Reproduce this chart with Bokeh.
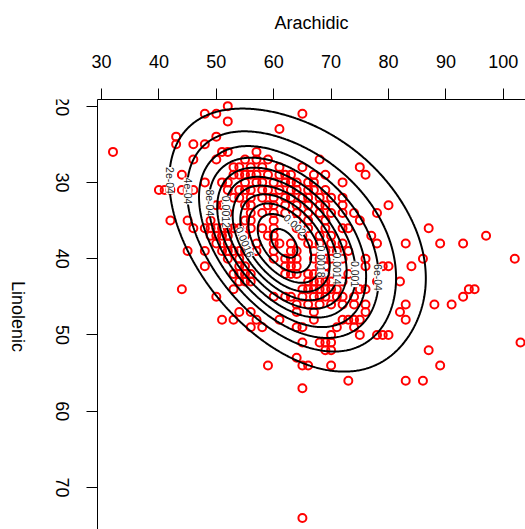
import math
import numpy as np
from bokeh.plotting import figure
from bokeh.layouts import row
from bokeh.models import Range1d, FixedTicker, Label
from bokeh.core.properties import value
from bokeh.embed import file_html
from bokeh.resources import INLINE

# ---------------- data ----------------
arachidic = [
    52,
    48, 50, 65,
    52,
    61,
    43, 50,
    43, 46, 48,
    32, 51, 52, 57,
    46, 50, 55, 57, 59, 68,
    53, 54, 56, 58, 61, 65, 75,
    44, 53, 54, 55, 56, 57, 59, 61, 62, 63, 67, 69, 76,
    48, 51, 52, 55, 57, 58, 60, 62, 63, 64, 66, 67, 72,
    40, 41, 42, 44, 45, 46, 52, 54, 55, 56, 58, 59, 61, 63, 64, 66, 67, 69,
    53, 54, 56, 58, 60, 62, 63, 65, 66, 68, 70, 72,
    50, 51, 55, 56, 59, 60, 62, 64, 66, 68, 69, 72, 80,
    52, 56, 58, 60, 62, 64, 66, 68, 70, 72, 74, 78,
    42, 45, 49, 55, 56, 60, 64, 66, 69, 75,
    46, 48, 49, 50, 51, 52, 53, 54, 56, 58, 60, 64, 66, 69, 72, 73, 87,
    49, 50, 51, 52, 55, 59, 60, 65, 68, 70, 77, 97,
    50, 52, 57, 60, 61, 63, 66, 68, 70, 72, 78, 83, 89, 93,
    45, 48, 51, 52, 53, 54, 55, 57, 60, 63, 64, 67, 69, 71, 73,
    52, 54, 60, 62, 63, 64, 67, 68, 69, 70, 72, 76, 86, 102,
    48, 54, 55, 62, 63, 64, 68, 69, 76, 79, 80, 84,
    53, 54, 55, 56, 62, 63, 64, 66, 67, 68, 69, 73,
    54, 55, 56, 66, 67, 68, 69, 70, 72, 78, 82,
    44, 53, 65, 66, 67, 68, 69, 70, 71, 75, 76, 94, 95,
    50, 60, 62, 63, 65, 67, 68, 69, 71, 72, 74, 93,
    64, 66, 68, 70, 72, 74, 76, 83, 88, 91,
    54, 56, 64, 67, 76, 82,
    51, 53, 57, 61, 67, 72, 73, 74, 75, 83,
    56, 58, 64, 65, 71, 74,
    70, 75, 78, 79, 80,
    65, 68, 69, 70, 103,
    69, 70, 87,
    64,
    59, 65, 66, 70, 89,
    73, 83, 86,
    65,
    65,
]
linolenic = [
    20,
    21, 21, 21,
    22,
    23,
    24, 24,
    25, 25, 25,
    26, 26, 26, 26,
    27, 27, 27, 27, 27, 27,
    28, 28, 28, 28, 28, 28, 28,
    29, 29, 29, 29, 29, 29, 29, 29, 29, 29, 29, 29, 29,
    30, 30, 30, 30, 30, 30, 30, 30, 30, 30, 30, 30, 30,
    31, 31, 31, 31, 31, 31, 31, 31, 31, 31, 31, 31, 31, 31, 31, 31, 31, 31,
    32, 32, 32, 32, 32, 32, 32, 32, 32, 32, 32, 32,
    33, 33, 33, 33, 33, 33, 33, 33, 33, 33, 33, 33, 33,
    34, 34, 34, 34, 34, 34, 34, 34, 34, 34, 34, 34,
    35, 35, 35, 35, 35, 35, 35, 35, 35, 35,
    36, 36, 36, 36, 36, 36, 36, 36, 36, 36, 36, 36, 36, 36, 36, 36, 36,
    37, 37, 37, 37, 37, 37, 37, 37, 37, 37, 37, 37,
    38, 38, 38, 38, 38, 38, 38, 38, 38, 38, 38, 38, 38, 38,
    39, 39, 39, 39, 39, 39, 39, 39, 39, 39, 39, 39, 39, 39, 39,
    40, 40, 40, 40, 40, 40, 40, 40, 40, 40, 40, 40, 40, 40,
    41, 41, 41, 41, 41, 41, 41, 41, 41, 41, 41, 41,
    42, 42, 42, 42, 42, 42, 42, 42, 42, 42, 42, 42,
    43, 43, 43, 43, 43, 43, 43, 43, 43, 43, 43,
    44, 44, 44, 44, 44, 44, 44, 44, 44, 44, 44, 44, 44,
    45, 45, 45, 45, 45, 45, 45, 45, 45, 45, 45, 45,
    46, 46, 46, 46, 46, 46, 46, 46, 46, 46,
    47, 47, 47, 47, 47, 47,
    48, 48, 48, 48, 48, 48, 48, 48, 48, 48,
    49, 49, 49, 49, 49, 49,
    50, 50, 50, 50, 50,
    51, 51, 51, 51, 51,
    52, 52, 52,
    53,
    54, 54, 54, 54, 54,
    56, 56, 56,
    57,
    74,
]
assert len(arachidic) == len(linolenic)

x_ticks = [30, 40, 50, 60, 70, 80, 90, 100]
y_ticks = [20, 30, 40, 50, 60, 70]
y_tick_labels = ["20", "30", "40", "50", "60", "70"]
x_title = "Arachidic"
y_title = "Linolenic"

# density model: two-component bivariate normal mixture
mix_weights = [0.70, 0.30]
mix_means = [(61.2, 38.2), (70.0, 35.5)]
mix_sds = [(8.8, 7.4), (12.0, 9.5)]
mix_rhos = [0.50, 0.45]

contour_levels = [0.0002, 0.0004, 0.0006, 0.0008, 0.0010, 0.0012,
                  0.0014, 0.0016, 0.0018, 0.0020, 0.0022]
# labels at the leftmost ("L") / rightmost ("R") point of a contour
label_texts = ["2e-04", "4e-04", "8e-04", "0.0012",
               "0.0018", "0.0014", "0.001", "6e-04"]
label_values = [0.0002, 0.0004, 0.0008, 0.0012,
                0.0018, 0.0014, 0.0010, 0.0006]
label_sides = ["L", "L", "L", "L", "R", "R", "R", "R"]
# labels along a direction from the density peak (degrees, screen space)
dir_label_texts = ["0.0016", "0.002"]
dir_label_values = [0.0016, 0.0020]
dir_label_dirs = [177, 61]

# ---------------- layout ----------------
W, H = 525, 529
BL, BT = 97, 99          # frame left / top in the window
GAP = 12                 # part of the left margin owned by the main figure
X0, X1 = 29.30, 103.87
Y_TOP, Y_BOT = 19.13, 75.51
FW, FH = W - BL, H - BT
SX = FW / (X1 - X0)
SY = FH / (Y_BOT - Y_TOP)
FONT = "Liberation Sans"
LW = BL - GAP            # width of the left strip


def density(x, y):
    tot = 0.0
    for w, m, s, r in zip(mix_weights, mix_means, mix_sds, mix_rhos):
        zx = (x - m[0]) / s[0]
        zy = (y - m[1]) / s[1]
        q = (zx * zx - 2 * r * zx * zy + zy * zy) / (1 - r * r)
        tot = tot + w * np.exp(-q / 2) / (2 * np.pi * s[0] * s[1] * np.sqrt(1 - r * r))
    return tot


gx = np.linspace(X0 - 1, X1 + 1, 400)
gy = np.linspace(Y_TOP - 1, Y_BOT + 1, 320)
GX, GY = np.meshgrid(gx, gy)
Z = density(GX, GY)
iy, ix = np.unravel_index(np.argmax(Z), Z.shape)
mode_x, mode_y = gx[ix], gy[iy]

# ---------- left strip: rotated tick labels and title ----------
left = figure(width=LW, height=H, x_range=Range1d(0, LW), y_range=Range1d(Y_BOT, Y_TOP),
              x_axis_type=None, y_axis_type=None, output_backend="svg",
              toolbar_location=None, min_border_left=0, min_border_right=0,
              min_border_top=BT, min_border_bottom=0)
left.outline_line_color = None
left.background_fill_color = "white"
left.border_fill_color = "white"
left.text(x=62, y=y_ticks, text=y_tick_labels, angle=-math.pi / 2,
          text_align="center", text_baseline="middle", text_font=value(FONT),
          text_font_size="18px", text_color="black")
left.text(x=[17], y=[Y_TOP + 217 / SY], text=[y_title], angle=-math.pi / 2,
          text_align="center", text_baseline="middle", text_font=value(FONT),
          text_font_size="18px", text_color="black")

# ---------- main plot ----------
p = figure(width=W - LW, height=H, x_range=Range1d(X0, X1), y_range=Range1d(Y_BOT, Y_TOP),
           x_axis_location="above", y_axis_location="left",
           output_backend="svg", toolbar_location=None,
           min_border_left=GAP, min_border_top=BT, min_border_right=0, min_border_bottom=0)
p.outline_line_color = None
p.xgrid.visible = False
p.ygrid.visible = False
p.background_fill_color = "white"
p.border_fill_color = "white"

for ax in (p.xaxis[0], p.yaxis[0]):
    ax.major_tick_out = 11
    ax.major_tick_in = 0
    ax.minor_tick_out = 0
    ax.minor_tick_in = 0
    ax.axis_line_color = "black"
    ax.major_tick_line_color = "black"

ya = p.yaxis[0]
ya.ticker = FixedTicker(ticks=y_ticks)
ya.major_label_overrides = {t: "" for t in y_ticks}
ya.major_label_standoff = 0

xa = p.xaxis[0]
xa.ticker = FixedTicker(ticks=x_ticks)
xa.major_label_text_font = FONT
xa.major_label_text_font_size = "18px"
xa.major_label_text_color = "black"
xa.axis_label = x_title
xa.axis_label_text_font = FONT
xa.axis_label_text_font_size = "18px"
xa.axis_label_text_font_style = "normal"
xa.axis_label_text_color = "black"
xa.major_label_standoff = 21
xa.axis_label_standoff = 19

# points
p.scatter(arachidic, linolenic, marker="circle", size=8, fill_color=None,
          line_color="red", line_width=2)

# contours
p.contour(gx, gy, Z, levels=contour_levels, line_color="black", line_width=2)


def side_spot(level, side):
    mask = Z >= level
    cols = np.where(mask.any(axis=0))[0]
    c = cols[0] if side == "L" else cols[-1]
    ys = gy[mask[:, c]]
    return gx[c], float(ys.mean())


def dir_spot(level, deg):
    th = math.radians(deg)
    t = 0.0
    while t < 400:
        x = mode_x + t * math.cos(th) / SX
        y = mode_y - t * math.sin(th) / SY
        if density(x, y) < level:
            break
        t += 0.25
    h = 0.01
    dfx = (density(x + h, y) - density(x - h, y)) / (2 * h)
    dfy = (density(x, y + h) - density(x, y - h)) / (2 * h)
    gxs = dfx / SX
    gys = -dfy / SY
    ang = math.atan2(gxs, -gys)
    while ang > 0:
        ang -= math.pi
    while ang <= -math.pi:
        ang += math.pi
    if ang < -3 * math.pi / 4:
        ang += math.pi
    return x, y, ang


def add_label(x, y, ang, txt):
    p.add_layout(Label(x=x, y=y, text=txt, angle=ang, text_align="center",
                       text_baseline="middle", text_font=FONT, text_font_size="10.5px",
                       text_color="#222222", background_fill_color="white"))


for txt, lev, sd in zip(label_texts, label_values, label_sides):
    lx, ly = side_spot(lev, sd)
    add_label(lx, ly, -math.pi / 2, txt)

for txt, lev, d in zip(dir_label_texts, dir_label_values, dir_label_dirs):
    dx, dy, da = dir_spot(lev, d)
    add_label(dx, dy, da, txt)

layout = row(left, p)
open("out.html", "w").write(file_html(layout, INLINE))
